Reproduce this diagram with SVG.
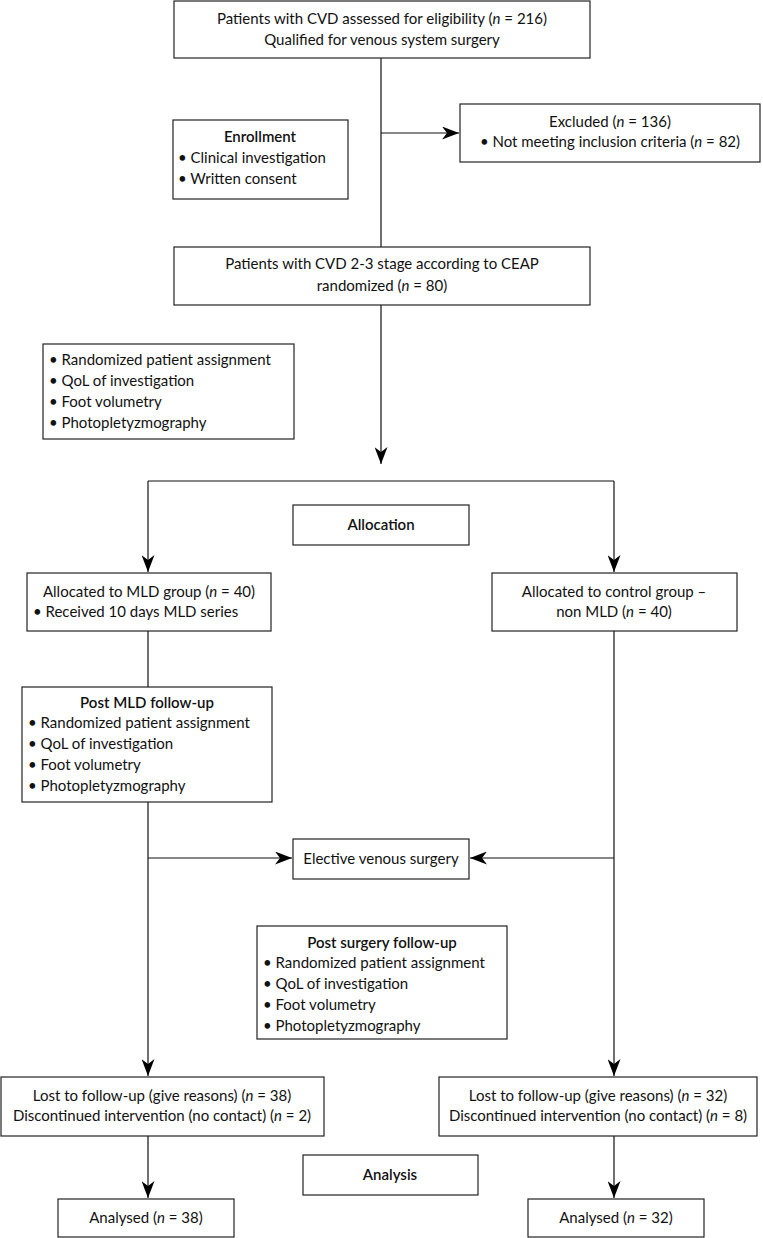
<svg xmlns="http://www.w3.org/2000/svg" width="763" height="1238" viewBox="0 0 763 1238">
<defs>
<marker id="ah" viewBox="0 0 17 13" refX="17" refY="6.5" markerWidth="17" markerHeight="13" markerUnits="userSpaceOnUse" orient="auto">
<path d="M0,0 L17,6.5 L0,13 L5,6.5 z" fill="#000"/>
</marker>
<style>
rect{fill:#fff;stroke:#222;stroke-width:1.2}
text{font-family:Lato,"Open Sans","Liberation Sans",sans-serif;font-size:15px;fill:#111}
.c{text-anchor:middle}
.b{font-weight:600}
.ln{fill:none;stroke:#111;stroke-width:1.2}
.ar{marker-end:url(#ah)}
</style>
</defs>
<rect x="0" y="0" width="763" height="1238" style="fill:#fff;stroke:none"/>
<g id="connectors">
<path class="ln" d="M381,58 V247"/>
<path class="ln ar" d="M381,133 H459"/>
<path class="ln ar" d="M381,305 V464"/>
<path class="ln" d="M148,481 H614"/>
<path class="ln ar" d="M148,481 V572"/>
<path class="ln ar" d="M614,481 V572"/>
<path class="ln" d="M148,631 V687"/>
<path class="ln ar" d="M148,802 V1076"/>
<path class="ln ar" d="M148,858 H292"/>
<path class="ln ar" d="M614,631 V1076"/>
<path class="ln ar" d="M614,858 H470"/>
<path class="ln ar" d="M148,1136 V1198"/>
<path class="ln ar" d="M614,1136 V1198"/>
</g>
<g id="n-assessed">
<rect x="174" y="1" width="416" height="57"/>
<text class="c" x="382" y="24">Patients with CVD assessed for eligibility (<tspan font-style="italic">n</tspan> = 216)</text>
<text class="c" x="382" y="45">Qualified for venous system surgery</text>
</g>
<g id="n-excluded">
<rect x="460" y="104" width="300" height="58"/>
<text class="c" x="610" y="127">Excluded (<tspan font-style="italic">n</tspan> = 136)</text>
<text class="c" x="610" y="147">• Not meeting inclusion criteria (<tspan font-style="italic">n</tspan> = 82)</text>
</g>
<g id="n-enrollment">
<rect x="173" y="120" width="175" height="79"/>
<text class="c b" x="260" y="142">Enrollment</text>
<text x="178" y="163">• Clinical investigation</text>
<text x="178" y="184">• Written consent</text>
</g>
<g id="n-randomized">
<rect x="174" y="247" width="416" height="58"/>
<text class="c" x="382" y="269">Patients with CVD 2-3 stage according to CEAP</text>
<text class="c" x="382" y="291">randomized (<tspan font-style="italic">n</tspan> = 80)</text>
</g>
<g id="n-assessments">
<rect x="43" y="344" width="251" height="95"/>
<text x="49" y="365">• Randomized patient assignment</text>
<text x="49" y="386">• QoL of investigation</text>
<text x="49" y="407">• Foot volumetry</text>
<text x="49" y="428">• Photopletyzmography</text>
</g>
<g id="n-allocation">
<rect x="293" y="505" width="176" height="40"/>
<text class="c b" x="381" y="530">Allocation</text>
</g>
<g id="n-mld">
<rect x="27" y="573" width="244" height="58"/>
<text class="c" x="149" y="597">Allocated to MLD group (<tspan font-style="italic">n</tspan> = 40)</text>
<text x="33" y="617">• Received 10 days MLD series</text>
</g>
<g id="n-control">
<rect x="492" y="573" width="245" height="58"/>
<text class="c" x="614" y="597">Allocated to control group –</text>
<text class="c" x="614" y="617">non MLD (<tspan font-style="italic">n</tspan> = 40)</text>
</g>
<g id="n-postmld">
<rect x="22" y="687" width="250" height="115"/>
<text class="c b" x="147" y="708">Post MLD follow-up</text>
<text x="28" y="728">• Randomized patient assignment</text>
<text x="28" y="749">• QoL of investigation</text>
<text x="28" y="770">• Foot volumetry</text>
<text x="28" y="791">• Photopletyzmography</text>
</g>
<g id="n-surgery">
<rect x="293" y="839" width="176" height="40"/>
<text class="c" x="381" y="864">Elective venous surgery</text>
</g>
<g id="n-postsurgery">
<rect x="257" y="926" width="250" height="113"/>
<text class="c b" x="382" y="948">Post surgery follow-up</text>
<text x="263" y="968">• Randomized patient assignment</text>
<text x="263" y="989">• QoL of investigation</text>
<text x="263" y="1010">• Foot volumetry</text>
<text x="263" y="1031">• Photopletyzmography</text>
</g>
<g id="n-lost-left">
<rect x="1" y="1077" width="323" height="59"/>
<text class="c" x="162" y="1101">Lost to follow-up (give reasons) (<tspan font-style="italic">n</tspan> = 38)</text>
<text class="c" x="162" y="1121">Discontinued intervention (no contact) (<tspan font-style="italic">n</tspan> = 2)</text>
</g>
<g id="n-lost-right">
<rect x="439" y="1077" width="318" height="59"/>
<text class="c" x="598" y="1101">Lost to follow-up (give reasons) (<tspan font-style="italic">n</tspan> = 32)</text>
<text class="c" x="598" y="1121">Discontinued intervention (no contact) (<tspan font-style="italic">n</tspan> = 8)</text>
</g>
<g id="n-analysis">
<rect x="303" y="1155" width="175" height="40"/>
<text class="c b" x="390" y="1180">Analysis</text>
</g>
<g id="n-analysed-left">
<rect x="58" y="1199" width="176" height="38"/>
<text class="c" x="146" y="1223">Analysed (<tspan font-style="italic">n</tspan> = 38)</text>
</g>
<g id="n-analysed-right">
<rect x="528" y="1199" width="176" height="38"/>
<text class="c" x="616" y="1223">Analysed (<tspan font-style="italic">n</tspan> = 32)</text>
</g>
</svg>
